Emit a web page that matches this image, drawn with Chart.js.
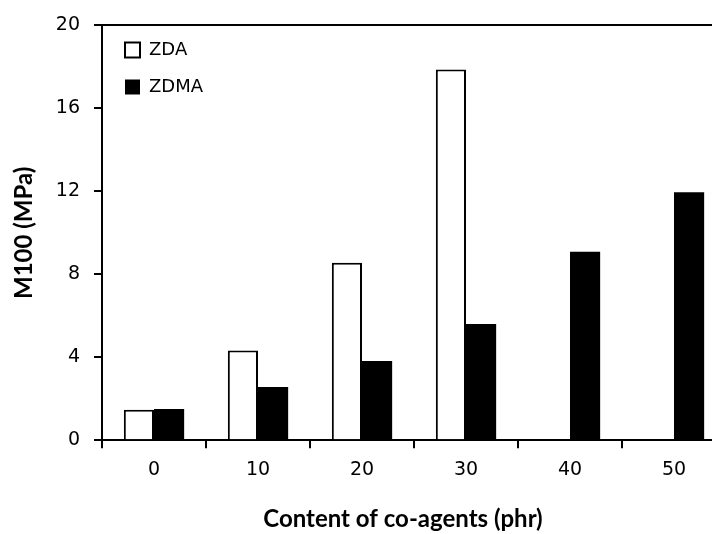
<!DOCTYPE html>
<html>
<head>
<meta charset="utf-8">
<script src="https://cdn.jsdelivr.net/npm/chart.js@4.4.1/dist/chart.umd.min.js"></script>
<style>
  html, body { margin: 0; padding: 0; background: #fff; overflow: hidden; }
  #wrap { width: 807px; height: 534px; }
</style>
</head>
<body>
<div id="wrap"><canvas id="c" width="807" height="534"></canvas></div>
<script>
const categories = ['0', '10', '20', '30', '40', '50'];
const zdaValues  = [1.47, 4.33, 8.56, 17.87, null, null];
const zdmaValues = [1.50, 2.56, 3.82, 5.60, 9.09, 11.95];
const yTicks = [0, 4, 8, 12, 16, 20];
const seriesNames = ['ZDA', 'ZDMA'];
const xTitle = 'Content of co-agents (phr)';
const yTitle = 'M100 (MPa)';

const tickFont = { family: 'DejaVu Sans', size: 19 };
const legendFont = { family: 'DejaVu Sans', size: 18 };
const titleFont = { family: 'Lato', size: 24, weight: 'bold' };

const boxShift = {
  id: 'boxShift',
  afterUpdate(chart) {
    const l = chart.legend;
    if (l) {
      l.left += 4; l.right += 4;
      l.top += 22; l.bottom += 22;
    }
    const t = chart.titleBlock;
    if (t) {
      t.left += 40; t.right += 40;
    }
  }
};

new Chart(document.getElementById('c'), {
  type: 'bar',
  data: {
    labels: categories,
    datasets: [
      {
        label: seriesNames[0],
        data: zdaValues,
        backgroundColor: '#ffffff',
        borderColor: '#000000',
        borderWidth: 2,
        categoryPercentage: 0.58,
        barPercentage: 1.0
      },
      {
        label: seriesNames[1],
        data: zdmaValues,
        backgroundColor: '#000000',
        borderColor: '#000000',
        borderWidth: 0,
        categoryPercentage: 0.58,
        barPercentage: 1.0
      }
    ]
  },
  options: {
    responsive: false,
    animation: false,
    devicePixelRatio: 1,
    events: [],
    layout: { padding: { left: 0, top: 22, right: 81, bottom: 0 } },
    plugins: {
      tooltip: { enabled: false },
      legend: {
        position: 'chartArea',
        align: 'start',
        labels: {
          font: legendFont,
          color: '#000',
          boxWidth: 15,
          boxHeight: 15,
          padding: 19
        }
      },
      title: {
        display: true,
        position: 'bottom',
        text: xTitle,
        font: titleFont,
        color: '#000',
        padding: { top: 15, bottom: 0 }
      }
    },
    scales: {
      x: {
        afterFit(scale) { scale.height = 50; },
        grid: {
          offset: true,
          drawOnChartArea: false,
          drawTicks: true,
          tickLength: 8,
          tickColor: '#000',
          tickWidth: 2,
          color: '#000',
          lineWidth: 2
        },
        border: { display: true, color: '#000', width: 2 },
        ticks: { font: tickFont, color: '#000', padding: 10 }
      },
      y: {
        min: 0,
        max: 20,
        afterFit(scale) { scale.width = 102; },
        afterBuildTicks(scale) { scale.ticks = yTicks.map(v => ({ value: v })); },
        grid: {
          drawOnChartArea: true,
          drawTicks: true,
          tickLength: 8,
          tickColor: '#000',
          tickWidth: 2,
          color: (ctx) => (ctx.tick && ctx.tick.value === 20 ? '#000' : 'rgba(0,0,0,0)'),
          lineWidth: 2
        },
        border: { display: true, color: '#000', width: 2 },
        ticks: { font: tickFont, color: '#000', padding: 14 },
        title: {
          display: true,
          text: yTitle,
          font: titleFont,
          color: '#000',
          padding: { top: 10, bottom: 0 }
        }
      }
    }
  },
  plugins: [boxShift]
});
</script>
</body>
</html>
